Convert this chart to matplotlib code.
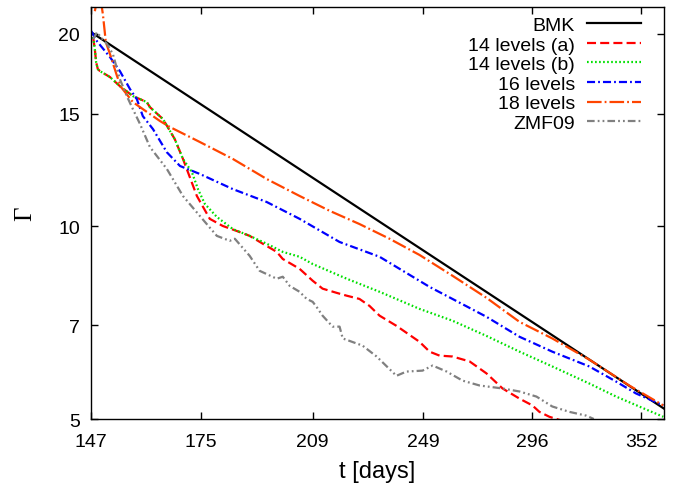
import matplotlib
matplotlib.use("Agg")
import matplotlib.pyplot as plt
from matplotlib.ticker import FixedLocator, NullLocator, FixedFormatter

plt.rcParams['font.family'] = ['Liberation Sans', 'DejaVu Sans']
plt.rcParams['lines.scale_dashes'] = False

# ---- data ----
bmk_t = [147.0, 365.0]
bmk_g = [20.1, 5.19]

a14_t = [147.5, 147.9, 148.2, 148.6, 149.1, 151.5, 153.9, 157.1, 160.6, 161.4, 164.8, 167.9,
         170.1, 173.9, 177.5, 181.2, 185.3, 189.1, 193.1, 197.4, 199.3, 204.7, 209.0, 212.3,
         217.1, 220.6, 225.1, 228.7, 232.4, 238.7, 247.6, 251.6, 255.6, 260.9, 268.1, 275.4,
         282.5, 290.2, 296.2, 299.5, 304.3, 307.7, 314.1]
a14_g = [19.74, 18.9, 18.04, 17.6, 17.47, 17.1, 16.55, 15.97, 15.63, 15.35, 14.7, 13.68,
         12.74, 11.15, 10.27, 10.01, 9.83, 9.66, 9.39, 9.12, 8.89, 8.58, 8.22, 7.99,
         7.87, 7.79, 7.70, 7.51, 7.25, 6.99, 6.60, 6.37, 6.28, 6.26, 6.15, 5.89,
         5.58, 5.38, 5.25, 5.13, 5.04, 5.00, 4.93]

b14_t = [147.5, 147.9, 148.2, 148.6, 149.1, 151.5, 153.9, 157.1, 160.6, 161.4, 164.8, 167.9,
         170.1, 172.5, 174.2, 176.1, 179.5, 184.1, 189.1, 194.3, 199.3, 204.7, 209.0, 220.6,
         232.4, 247.6, 260.9, 275.4, 290.2, 305.7, 324.2, 338.3, 356.5, 364.6]
b14_g = [19.74, 18.9, 18.04, 17.6, 17.47, 17.1, 16.55, 15.97, 15.63, 15.35, 14.7, 13.68,
         12.74, 12.16, 11.43, 10.84, 10.34, 9.90, 9.66, 9.39, 9.12, 8.96, 8.73, 8.28,
         7.90, 7.43, 7.12, 6.74, 6.37, 6.04, 5.68, 5.42, 5.15, 5.04]

l16_t = [147.0, 148.4, 151.5, 153.9, 156.4, 158.1, 159.6, 162.2, 165.8, 169.3, 174.7, 184.1,
         194.3, 204.7, 218.1, 232.4, 251.6, 275.4, 290.2, 305.7, 324.2, 338.3, 349.2, 364.6]
l16_g = [20.2, 19.45, 18.37, 17.47, 16.37, 15.79, 14.86, 14.18, 13.05, 12.42, 12.07, 11.43,
         10.91, 10.27, 9.45, 8.96, 8.04, 7.22, 6.72, 6.37, 6.04, 5.72, 5.48, 5.25]

l18_t = [147.9, 148.9, 149.8, 150.5, 151.5, 153.2, 154.2, 157.1, 159.6, 164.0, 166.6, 174.7,
         184.1, 194.3, 204.7, 214.7, 225.1, 236.1, 247.6, 260.9, 275.4, 290.2, 305.7, 324.2,
         345.4, 364.6]
l18_g = [21.67, 23.5, 21.43, 19.39, 18.57, 17.16, 16.49, 15.63, 15.24, 14.60, 14.29, 13.54,
         12.74, 11.85, 11.15, 10.57, 10.08, 9.56, 9.02, 8.37, 7.73, 7.09, 6.68, 6.19,
         5.64, 5.25]

zmf_t = [147.5, 148.4, 149.3, 150.8, 152.2, 153.9, 155.6, 157.1, 158.9, 161.4, 165.8, 170.1,
         174.7, 179.5, 183.2, 184.7, 189.1, 192.1, 197.4, 199.3, 201.5, 204.7, 207.0, 209.0,
         210.3, 212.3, 215.7, 218.1, 219.2, 226.2, 231.3, 238.7, 242.5, 248.8, 252.8, 258.5,
         265.1, 272.4, 282.5, 290.2, 298.1, 305.7, 314.1, 322.7, 326.5]
zmf_g = [19.59, 20.09, 19.74, 19.25, 18.57, 16.97, 15.97, 15.24, 14.44, 13.30, 12.29, 11.15,
         10.38, 9.66, 9.49, 9.56, 8.99, 8.52, 8.28, 8.34, 8.07, 7.90, 7.70, 7.62,
         7.48, 7.25, 6.97, 6.97, 6.68, 6.51, 6.26, 5.84, 5.93, 5.95, 6.06, 5.93,
         5.74, 5.64, 5.58, 5.52, 5.42, 5.23, 5.13, 5.06, 5.00]

x_ticks = [147, 175, 209, 249, 296, 352]
y_ticks = [5, 7, 10, 15, 20]

fig = plt.figure(figsize=(6.76, 4.85), dpi=100)
ax = fig.add_axes([91/676, 1-420/485, (664-91)/676, (420-8)/485])

ax.plot(bmk_t, bmk_g, color='black', lw=1.6, label='BMK')
ax.plot(a14_t, a14_g, color='#FF0000', lw=1.6, ls=(0, (6.5, 3)), label='14 levels (a)')
ax.plot(b14_t, b14_g, color='#00E000', lw=1.6, ls=(0, (1.2, 1.7)), label='14 levels (b)')
ax.plot(l16_t, l16_g, color='#0000FF', lw=1.6, ls=(0, (5.8, 2.2, 1.3, 2.2)), label='16 levels')
ax.plot(l18_t, l18_g, color='#FF4500', lw=1.6, ls=(0, (10.5, 2.2, 1.3, 2.2)), label='18 levels')
ax.plot(zmf_t, zmf_g, color='#808080', lw=1.6, ls=(0, (5.5, 2.2, 1.3, 2.2, 1.3, 2.2)), label='ZMF09')

ax.set_xscale('log')
ax.set_yscale('log')
ax.set_xlim(147, 365)
ax.set_ylim(5, 22)

ax.xaxis.set_major_locator(FixedLocator(x_ticks))
ax.xaxis.set_major_formatter(FixedFormatter([str(v) for v in x_ticks]))
ax.xaxis.set_minor_locator(NullLocator())
ax.yaxis.set_major_locator(FixedLocator(y_ticks))
ax.yaxis.set_major_formatter(FixedFormatter([str(v) for v in y_ticks]))
ax.yaxis.set_minor_locator(NullLocator())

ax.tick_params(which='both', direction='in', top=True, right=True, length=5, width=1,
               labelsize=14)
ax.tick_params(axis='x', pad=10)
ax.tick_params(axis='y', pad=8)
for s in ax.spines.values():
    s.set_linewidth(1.0)

ax.set_xlabel('t [days]', fontsize=17, labelpad=7)
ax.set_ylabel('Γ', fontsize=18, family=['Liberation Serif', 'DejaVu Serif'], labelpad=16)

leg = ax.legend(loc='upper right', frameon=False, markerfirst=False, fontsize=14,
                handlelength=2.8, handletextpad=0.6, labelspacing=0.1,
                borderaxespad=0.0, borderpad=0.0, bbox_to_anchor=(0.96, 0.977))

fig.savefig('out.png', dpi=100)
